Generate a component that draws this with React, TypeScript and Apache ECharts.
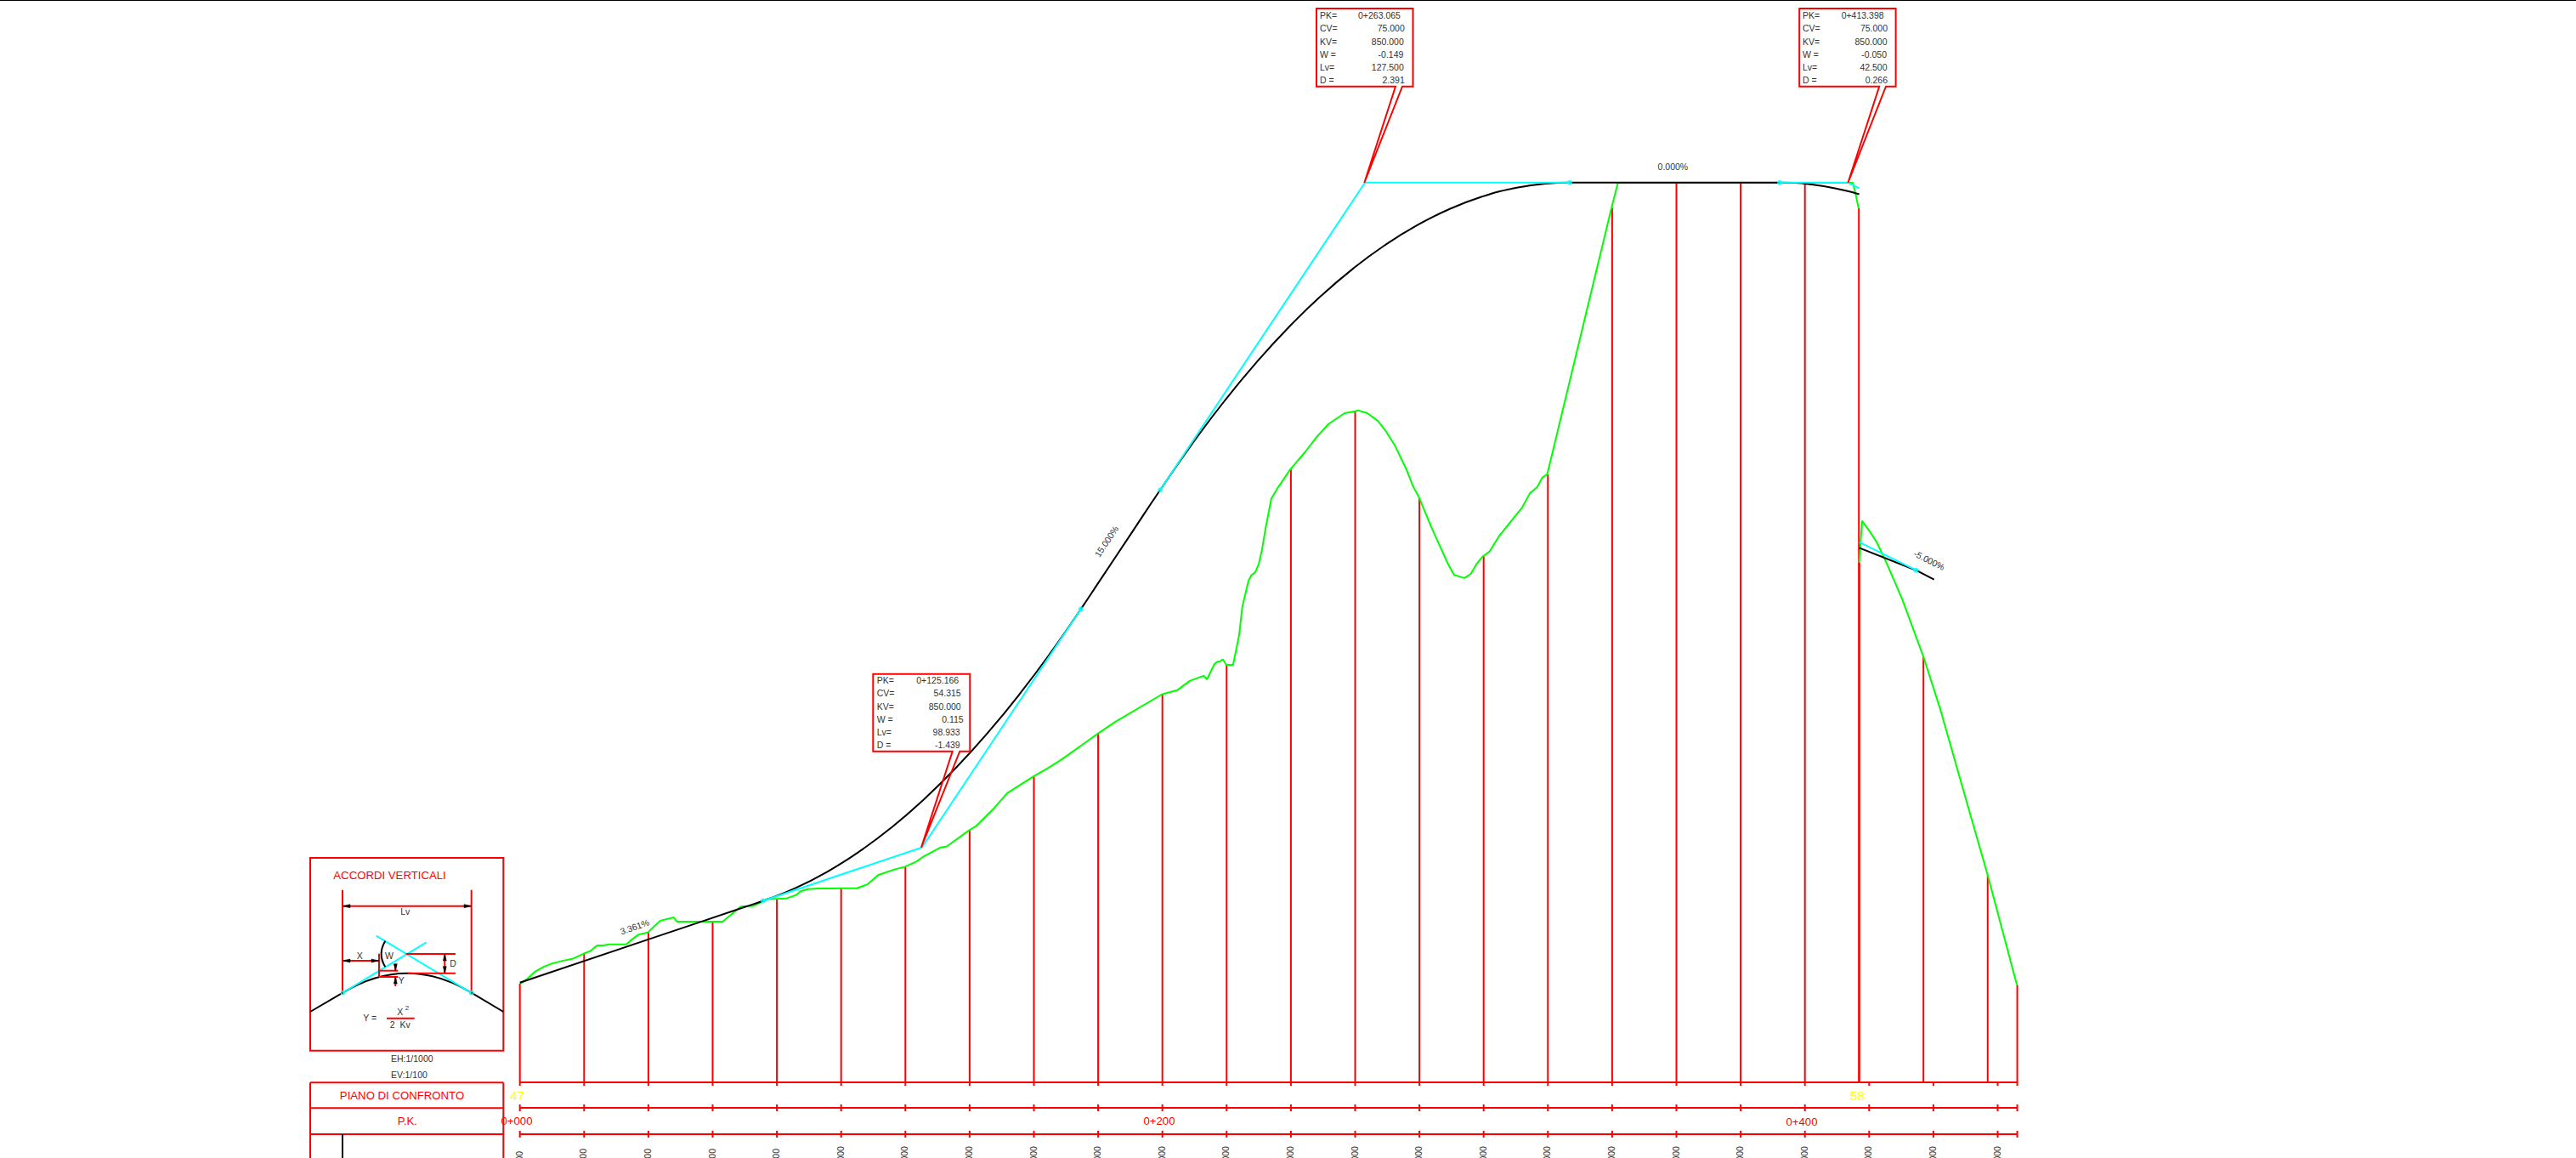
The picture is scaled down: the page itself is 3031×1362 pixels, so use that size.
import React, { useEffect, useRef } from "react";
import * as echarts from "echarts";

const W = 3031;
const H = 1362;
const FONT = "'Liberation Sans', Arial, sans-serif";

// Ground profile (station m, elevation m above the comparison plane)
const terrainA: number[][] = [
  [0, 3.06], [2.2, 3.21], [4.8, 3.45], [7.5, 3.6], [10.1, 3.7], [13.2, 3.78], [16.3, 3.84], [19.8, 4.0], [22.0, 4.09],
  [23.4, 4.21], [24.2, 4.26], [26.0, 4.26], [27.8, 4.29], [30.8, 4.29], [33.1, 4.29], [34.8, 4.44], [37.0, 4.6], [39.8, 4.66],
  [41.9, 4.86], [43.7, 5.03], [47.9, 5.13], [48.9, 5.0], [54.2, 5.0], [59.9, 5.0], [63.1, 5.0], [65.7, 5.21], [68.8, 5.47],
  [72.8, 5.49], [75.4, 5.62], [77.1, 5.71], [79.9, 5.71], [82.9, 5.72], [86.0, 5.83], [87.3, 5.94], [89.5, 6.01], [93.0, 6.03],
  [97.4, 6.03], [99.8, 6.04], [104.9, 6.04], [108.2, 6.16], [111.5, 6.45], [116.8, 6.63], [119.9, 6.71], [123.4, 6.87],
  [125.7, 7.03], [131.0, 7.31], [132.9, 7.34], [139.8, 7.84], [142.0, 7.97], [147.7, 8.54], [151.7, 9.0], [159.9, 9.52],
  [164.4, 9.78], [168.4, 10.03], [179.9, 10.85], [185.4, 11.22], [199.8, 12.07], [204.6, 12.2], [208.5, 12.49], [212.8, 12.65],
  [213.9, 12.54], [216.1, 13.0], [217.0, 13.08], [218.0, 13.1], [218.8, 13.16], [219.9, 12.99], [222.0, 12.99], [223.9, 13.92],
  [224.9, 14.81], [226.8, 15.6], [227.7, 15.78], [228.9, 15.87], [230.0, 16.13], [231.0, 16.57], [232.2, 17.28], [233.9, 18.16],
  [236.0, 18.51], [239.8, 19.07], [244.4, 19.61], [248.2, 20.1], [251.8, 20.49], [256.7, 20.82], [259.9, 20.88], [260.9, 20.91],
  [263.8, 20.82], [267.1, 20.58], [269.5, 20.27], [272.3, 19.83], [276.1, 19.04], [278.0, 18.55], [279.9, 18.2], [283.7, 17.28],
  [286.9, 16.57], [288.9, 16.13], [290.8, 15.79], [294.0, 15.69], [296.0, 15.82], [297.8, 16.13], [299.8, 16.37], [301.8, 16.51],
  [304.9, 17.01], [309.2, 17.54], [312.0, 17.89], [314.4, 18.33], [316.6, 18.51], [318.3, 18.82], [319.8, 18.92], [339.8, 27.21],
  [341.8, 27.99], [413.6, 27.99], [414.9, 27.99], [415.9, 27.59], [416.7, 27.2],
];
const terrainB: number[][] = [
  [416.9, 16.17], [417.8, 17.47], [420.2, 17.14], [422.4, 16.8], [425.5, 16.14], [430.3, 15.03], [433.4, 14.19], [436.9, 13.24],
  [442.2, 11.59], [447.1, 9.87], [451.9, 8.19], [456.9, 6.45], [466.0, 3.03],
];

// Road profile
const roadA: number[][] = [
  [0, 3.103], [40, 4.447], [70, 5.456], [75.7, 5.647], [85.7, 6.042], [95.7, 6.554], [105.7, 7.184], [115.7, 7.932], [125.7, 8.798],
  [135.7, 9.781], [145.7, 10.881], [155.7, 12.099], [165.7, 13.435], [174.63, 14.727], [180, 15.533], [190, 17.033], [199.315, 18.432],
  [209.3, 19.873], [219.3, 21.197], [229.3, 22.403], [239.3, 23.491], [249.3, 24.462], [259.3, 25.315], [269.3, 26.051], [279.3, 26.669],
  [289.3, 27.169], [299.3, 27.552], [309.3, 27.817], [319.3, 27.965], [326.8, 27.995], [340, 27.995], [392.15, 27.995], [402.15, 27.936],
  [412.15, 27.76], [416.9, 27.633],
];
const roadB: number[][] = [[416.9, 16.632], [434.6, 15.934], [440.2, 15.643]];

// Tangents of the vertical curves
const gradeSegments: number[][][] = [
  [[75.7, 5.647], [125.166, 7.31], [174.63, 14.727]],
  [[199.315, 18.432], [263.065, 27.995], [326.8, 27.995]],
  [[392.15, 27.995], [413.398, 27.995], [416.9, 27.82]],
  [[416.9, 16.807], [434.6, 15.934]],
];
const tangentPoints: number[][] = [
  [75.7, 5.647], [174.63, 14.727], [199.315, 18.432], [326.8, 27.995], [392.15, 27.995], [434.6, 15.934],
];

// Section verticals [station, top elevation]
const sections: number[][] = [
  [0, 3.07], [20, 4.0], [40, 4.66], [60, 5.0], [80, 5.71], [100, 6.04], [120, 6.71], [140, 7.84], [160, 9.52], [180, 10.85],
  [200, 12.07], [220, 12.99], [240, 19.07], [260, 20.88], [280, 18.2], [300, 16.37], [320, 18.92], [340, 27.21], [360, 27.99],
  [380, 27.99], [400, 27.99], [416.8, 27.2], [416.95, 16.17], [436.9, 13.24], [456.9, 6.45], [466.1, 3.03],
];

const tickStations = [0, 20, 40, 60, 80, 100, 120, 140, 160, 180, 200, 220, 240, 260, 280, 300, 320, 340, 360, 380, 400, 420, 440, 460, 466.1];
const labelStations = tickStations.slice(0, 24);
const stationTexts = labelStations.map((s) => `${s}.000`);

// Table rows (elevation equivalent of the band lines)
const PLANE = 0;
const row2 = -0.794;
const row3 = -1.614;
const labelRow = -2.487;

const PK_FIELDS = ["PK=", "CV=", "KV=", "W =", "Lv=", "D ="];
const curve1 = ["0+125.166", "54.315", "850.000", "0.115", "98.933", "-1.439"];
const curve2 = ["0+263.065", "75.000", "850.000", "-0.149", "127.500", "2.391"];
const curve3 = ["0+413.398", "75.000", "850.000", "-0.050", "42.500", "0.266"];

const RED = "#ff0000";
const CYAN = "#00ffff";
const GREEN = "#00ff00";
const BLACK = "#000000";
const TEXT = "#333333";

// axis ranges that give 3.78 px / m horizontally and 37.8 px / m vertically
const X0 = 611.7;
const Y0 = 1273;
const PXM_X = 3.78;
const PXM_Y = 37.8;

const line = (x1: number, y1: number, x2: number, y2: number, stroke = RED, lineWidth = 2) => ({
  type: "line", z: 100, shape: { x1, y1, x2, y2 }, style: { stroke, lineWidth, fill: "none" },
});
const txt = (text: string, x: number, y: number, o: any = {}) => ({
  type: "text", z: 101, x, y, rotation: o.rotation || 0,
  style: {
    text, fill: o.color || TEXT, fontSize: o.size || 10.5, fontFamily: FONT,
    align: o.align || "center", verticalAlign: "middle",
  },
});
const arrow = (x: number, y: number, dx: number, dy: number) => ({
  type: "polygon", z: 102,
  shape: {
    points: dx
      ? [[x, y], [x + dx, y - 2], [x + dx, y + 2]]
      : [[x, y], [x - 2, y + dy], [x + 2, y + dy]],
  },
  style: { fill: BLACK, stroke: BLACK, lineWidth: 0.5 },
});
const callout = (l: number, t: number, r: number, b: number, g1: number, g2: number, vx: number, vy: number) => ({
  type: "polygon", z: 100,
  shape: { points: [[l, t], [r, t], [r, b], [g2, b], [vx, vy], [g1, b], [l, b]] },
  style: { stroke: RED, lineWidth: 2, fill: "none" },
});
const box = (vals: string[], left: number, top: number, rights: number[], first: [number, number]) => {
  const out: any[] = [];
  vals.forEach((v, i) => {
    const y = top + i * 15.1;
    out.push(txt(PK_FIELDS[i], left, y, { align: "left" }));
    if (i === 0) out.push(txt(v, first[0], y, { align: "center" }));
    else out.push(txt(v, rights[i], y, { align: "right" }));
  });
  return out;
};

const graphicElements: any[] = [
  { type: "rect", z: 100, shape: { x: 0, y: 0, width: W, height: 1 }, style: { fill: "#000" } },
  // legend frame
  { type: "rect", z: 100, shape: { x: 365, y: 1009, width: 227.3, height: 226.7 }, style: { stroke: RED, lineWidth: 2, fill: "none" } },
  txt("ACCORDI VERTICALI", 458.5, 1029, { color: RED, size: 13.2 }),
  line(403, 1046.7, 403, 1167.3),
  line(554.7, 1046.7, 554.7, 1167.3),
  line(403, 1065.7, 554.7, 1065.7),
  arrow(403, 1065.7, 9, 0),
  arrow(555, 1065.7, -9, 0),
  txt("Lv", 476.7, 1071.7),
  // road and tangents
  line(365, 1190, 403.3, 1167.7, BLACK),
  {
    type: "bezierCurve", z: 100,
    shape: { x1: 403.3, y1: 1167.7, cpx1: 479, cpy1: 1121.7, x2: 554.7, y2: 1167.7 },
    style: { stroke: BLACK, lineWidth: 2, fill: "none" },
  },
  line(554.7, 1167.7, 592.3, 1190, BLACK),
  line(442.7, 1100.7, 554.3, 1167.7, CYAN),
  line(501.7, 1108.3, 403.3, 1167.7, CYAN),
  { type: "circle", z: 101, shape: { cx: 403.3, cy: 1167.7, r: 2 }, style: { stroke: CYAN, lineWidth: 1.5, fill: "none" } },
  { type: "circle", z: 101, shape: { cx: 554.7, cy: 1167.7, r: 2 }, style: { stroke: CYAN, lineWidth: 1.5, fill: "none" } },
  // X
  line(446, 1121.7, 446, 1148.3),
  line(403, 1130, 446, 1130),
  arrow(403, 1130, 9, 0),
  arrow(446, 1130, -9, 0),
  txt("X", 423.3, 1124),
  // Y
  line(446, 1141.7, 468.3, 1141.7),
  line(446, 1149, 468.3, 1149),
  line(465.3, 1134, 465.3, 1141.7),
  line(465.3, 1149, 465.3, 1160),
  arrow(465.3, 1141.7, 0, -8),
  arrow(465.3, 1149, 0, 8),
  txt("Y", 472.3, 1153.3),
  // D
  line(477.7, 1122, 536, 1122),
  line(480, 1144.7, 536, 1144.7),
  line(523.3, 1122, 523.3, 1144.7),
  arrow(523.3, 1122, 0, 8),
  arrow(523.3, 1144.7, 0, -8),
  txt("D", 533, 1133),
  // W
  {
    type: "bezierCurve", z: 100,
    shape: { x1: 453.3, y1: 1106.7, cpx1: 444, cpy1: 1122, x2: 453.3, y2: 1137.3 },
    style: { stroke: BLACK, lineWidth: 2, fill: "none" },
  },
  txt("W", 458, 1124),
  // formula
  txt("Y =", 435.3, 1197.3),
  txt("X", 470.7, 1190),
  txt("2", 479, 1185.7, { size: 8 }),
  line(455, 1197.7, 487.7, 1197.7),
  txt("2  Kv", 470.7, 1205),
  txt("EH:1/1000", 460, 1245, { align: "left" }),
  txt("EV:1/100", 460, 1264, { align: "left" }),
  // table head
  line(365, 1273.3, 592.3, 1273.3),
  line(365, 1303.3, 592.3, 1303.3),
  line(365, 1334, 592.3, 1334),
  line(365, 1273.3, 365, H),
  line(592.3, 1273.3, 592.3, H),
  line(403, 1334, 403, H, BLACK),
  txt("PIANO DI CONFRONTO", 473, 1288.7, { color: RED, size: 13.2 }),
  txt("P.K.", 479.3, 1318.7, { color: RED, size: 13.2 }),
  txt("47", 608.7, 1288.7, { color: "#ffff00", size: 15.5 }),
  txt("58", 2185.3, 1288.7, { color: "#ffff00", size: 15.5 }),
  txt("0+000", 608, 1318.7, { color: RED, size: 13.2 }),
  txt("0+200", 1364, 1318.7, { color: RED, size: 13.2 }),
  txt("0+400", 2120, 1319, { color: RED, size: 13.2 }),
  // grades
  txt("3.361%", 746.7, 1090, { rotation: (19 * Math.PI) / 180 }),
  txt("15.000%", 1301.8, 636.7, { rotation: (56.3 * Math.PI) / 180 }),
  txt("0.000%", 1968.4, 196.3),
  txt("-5.000%", 2270, 659.3, { rotation: (-26.6 * Math.PI) / 180 }),
  // curve boxes
  callout(1027.3, 792.7, 1141.3, 883.7, 1120.7, 1129.3, 1084, 996.7),
  ...box(curve1, 1031.7, 800.3, [0, 1130.7, 1130.7, 1133.7, 1129.7, 1129.7], [1103.2, 0]),
  callout(1549, 10, 1662.5, 101.7, 1642, 1650, 1605.3, 215),
  ...box(curve2, 1553, 18.3, [0, 1652.8, 1651.8, 1651.4, 1651.8, 1652.8], [1623, 0]),
  callout(2117.2, 10, 2230.6, 101.7, 2211.2, 2219, 2174.4, 215),
  ...box(curve3, 2121, 18.3, [0, 2221, 2220.5, 2220, 2220.5, 2221], [2191.6, 0]),
];

const segmentRender = (params: any, api: any) => {
  const a = api.coord([api.value(0), api.value(1)]);
  const b = api.coord([api.value(2), api.value(3)]);
  return { type: "line", shape: { x1: a[0], y1: a[1], x2: b[0], y2: b[1] }, style: { stroke: api.value(4) ? BLACK : RED, lineWidth: 2 } };
};

const tickRender = (params: any, api: any) => {
  const p = api.coord([api.value(0), api.value(1)]);
  const up = api.value(2);
  return { type: "line", shape: { x1: p[0], y1: p[1] - up, x2: p[0], y2: p[1] + 4 }, style: { stroke: RED, lineWidth: 2 } };
};

const labelRender = (params: any, api: any) => {
  const p = api.coord([api.value(0), api.value(1)]);
  return {
    type: "text", x: p[0] - 1, y: p[1], rotation: Math.PI / 2,
    style: { text: stationTexts[params.dataIndex], fill: TEXT, fontSize: 10.5, fontFamily: FONT, align: "center", verticalAlign: "middle" },
  };
};

const profile = (data: any[], color: string, z: number, smooth: number | boolean = false) => ({
  type: "line", data, z, smooth, showSymbol: false, symbol: "none", silent: true, animation: false,
  clip: false, lineStyle: { color, width: 2 }, connectNulls: false,
});

export default function App() {
  const ref = useRef<HTMLDivElement>(null);
  useEffect(() => {
    const chart = echarts.init(ref.current!, undefined, { renderer: "svg" });
    const verticals = sections.map(([s, top]) => [s, PLANE, s, top, 0]);
    const rows = [PLANE, row2, row3].map((r) => [0, r, 466.1, r, 0]);
    const ticks: number[][] = [];
    tickStations.forEach((s) => {
      ticks.push([s, PLANE, 0]);
      ticks.push([s, row2, 4]);
      ticks.push([s, row3, 4]);
    });
    const gradeData: any[] = [];
    gradeSegments.forEach((seg, i) => {
      if (i) gradeData.push(["-", "-"]);
      gradeData.push(...seg);
    });
    chart.setOption({
      animation: false,
      grid: { left: 0, right: 0, top: 0, bottom: 0 },
      xAxis: { type: "value", show: false, min: -X0 / PXM_X, max: (W - X0) / PXM_X },
      yAxis: { type: "value", show: false, min: (Y0 - H) / PXM_Y, max: Y0 / PXM_Y },
      graphic: { elements: graphicElements },
      series: [
        { type: "custom", z: 2, silent: true, renderItem: segmentRender, data: verticals, encode: { x: [0, 2], y: [1, 3] } },
        { type: "custom", z: 2, silent: true, renderItem: segmentRender, data: rows, encode: { x: [0, 2], y: [1, 3] } },
        { type: "custom", z: 2, silent: true, renderItem: tickRender, data: ticks, encode: { x: 0, y: 1 } },
        { type: "custom", z: 2, silent: true, renderItem: labelRender, data: labelStations.map((s) => [s, labelRow]), encode: { x: 0, y: 1 } },
        profile(terrainA, GREEN, 3),
        profile(terrainB, GREEN, 3),
        profile(roadA, BLACK, 4, 0.5),
        profile(roadB, BLACK, 4),
        profile(gradeData, CYAN, 5),
        {
          type: "scatter", z: 6, silent: true, data: tangentPoints, symbol: "circle", symbolSize: 6,
          itemStyle: { color: CYAN },
        },
      ],
    });
    return () => chart.dispose();
  }, []);
  return <div ref={ref} style={{ position: "fixed", left: 0, top: 0, width: W, height: H, background: "#fff" }} />;
}
